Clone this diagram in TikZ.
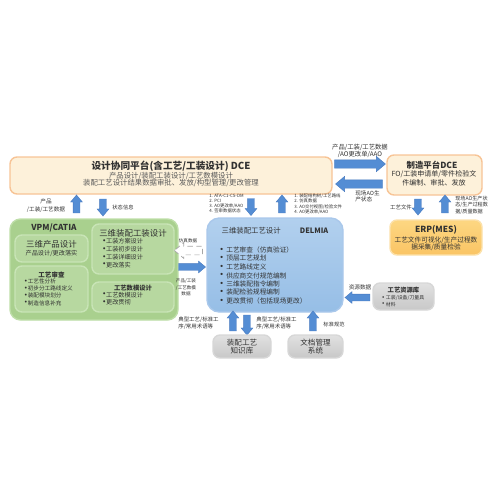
\documentclass[tikz,border=0pt]{standalone}
\usepackage{fontspec}
\usepackage{graphicx}
\setmainfont{Noto Sans CJK SC}
\usetikzlibrary{shapes.arrows}
\definecolor{txtgray}{RGB}{50,50,50}
\definecolor{subgray}{RGB}{90,90,90}
\definecolor{dcefill}{RGB}{253,241,218}
\definecolor{dceedge}{RGB}{247,196,150}
\definecolor{erptop}{RGB}{253,215,130}
\definecolor{erpbot}{RGB}{250,196,100}
\definecolor{erpedge}{RGB}{252,225,170}
\definecolor{vpmfill}{RGB}{169,208,142}
\definecolor{vpmedge}{RGB}{190,222,168}
\definecolor{subfill}{RGB}{183,216,160}
\definecolor{subedge}{RGB}{200,228,182}
\definecolor{deltop}{RGB}{178,208,238}
\definecolor{delbot}{RGB}{150,190,230}
\definecolor{deledge}{RGB}{170,200,235}
\definecolor{graytop}{RGB}{225,225,225}
\definecolor{graybot}{RGB}{200,200,200}
\definecolor{grayedge}{RGB}{215,215,215}
\definecolor{arrowblue}{RGB}{84,141,212}
\definecolor{arrowedge}{RGB}{70,120,190}
\newcommand{\fsz}[2]{\fontsize{#1}{#2}\selectfont}
\newcommand{\itm}[2][1.5em]{\makebox[#1][l]{\raisebox{-0.1em}{\scalebox{1.6}{\textbullet}}}#2}

\begin{document}
\begin{tikzpicture}[x=0.2mm, y=-0.2mm,
  txt/.style={inner sep=0pt, text=txtgray, align=center},
  lst/.style={inner sep=0pt, text=txtgray, align=left},
  panel/.style 2 args={rounded corners=4pt, line width=0.8pt, inner sep=0pt,
    minimum width=#1*0.2mm, minimum height=#2*0.2mm, text=txtgray, align=center},
  blk/.style={single arrow, fill=arrowblue, draw=arrowedge, line width=0.2pt,
    inner sep=0.65mm, single arrow head extend=0.5mm, single arrow tip angle=80,
    minimum height=#1*0.2mm},
  widearrow/.style={inner sep=0.8mm, single arrow head extend=0.7mm},
  blkdash/.style={single arrow, fill=white, draw=gray!70, densely dashed, line width=0.4pt,
    inner sep=0.8mm, single arrow head extend=0.7mm, single arrow tip angle=80,
    minimum height=#1*0.2mm}]
  \useasboundingbox (0,0) rectangle (500,500);

  \node[panel={322}{37}, fill=dcefill, draw=dceedge] (dce) at (171,175.5) {};
  \node[txt, font=\bfseries\fsz{5.5}{6.5}] (dcetitle) at (171,166.5) {设计协同平台(含工艺/工装设计) DCE};
  \node[txt, font=\fsz{4.2}{5}, text=subgray] (dceline1) at (171,176) {产品设计/装配工装设计/工艺数模设计};
  \node[txt, font=\fsz{4.2}{5}, text=subgray] (dceline2) at (171,183.5) {装配工艺设计结果数据审批、发放/构型管理/更改管理};

  \node[panel={95}{40}, fill=dcefill, draw=dceedge] (mfg) at (434.5,175) {};
  \node[txt, font=\bfseries\fsz{4.8}{5.8}] (mfgtitle) at (432,165) {制造平台DCE};
  \node[txt, font=\fsz{4}{4}] (mfgtext) at (434,178.5) {FO/工装申请单/零件检验文\\件编制、审批、发放};

  \node[panel={92}{35}, top color=erptop, bottom color=erpbot, draw=erpedge] (erp) at (436,237.5) {};
  \node[txt, font=\bfseries\fsz{4.8}{5.8}] (erptitle) at (436,230) {ERP(MES)};
  \node[txt, font=\fsz{3.8}{4}] (erptext) at (436,243.5) {工艺文件可视化/生产过程数\\据采集/质量检验};

  \node[blk=51, widearrow] (toMfg) at (357.5,164) {};
  \node[blk=47, widearrow, rotate=180] (toDce) at (361.5,184) {};
  \node[txt, font=\fsz{3.6}{4.3}] (toMfgLbl) at (360,151) {产品/工装/工艺数据\\/AO更改单/AAO};
  \node[lst, font=\fsz{3.2}{3.8}, anchor=north west] (toDceLbl) at (355,190) {现场AO生\\产状态};
  \node[blk=16, rotate=270] (toErp) at (418,205) {};
  \node[blk=18, rotate=90] (fromErp) at (445,206) {};
  \node[txt, font=\fsz{3.1}{3.7}] (toErpLbl) at (401,207) {工艺文件};
  \node[lst, font=\fsz{2.9}{3.7}, anchor=north west] (fromErpLbl) at (455,195.5) {现场AO生产状\\态/生产过程数\\据/质量数据};

  \node[panel={168}{101}, rounded corners=6pt, fill=vpmfill, draw=vpmedge] (vpm) at (94,269.5) {};
  \node[txt, font=\bfseries\fsz{4.7}{5.5}] (vpmtitle) at (54,228) {VPM/CATIA};
  \node[panel={73}{27}, fill=subfill, draw=subedge] (prod) at (51.5,248.5) {};
  \node[txt, font=\fsz{4.8}{5.5}] (prodtitle) at (51.5,244) {三维产品设计};
  \node[txt, font=\fsz{3.5}{4}] (prodtext) at (51.5,253) {产品设计/更改落实};
  \node[panel={73}{46}, fill=subfill, draw=subedge] (review) at (51.5,289) {};
  \node[txt, font=\bfseries\fsz{3.7}{4.3}] (reviewtitle) at (51.5,274.5) {工艺审查};
  \foreach \t [count=\i from 0] in {工艺性分析, 初步分工路线定义, 装配模块划分, 制造信息补充}
    \node[lst, anchor=west, font=\fsz{3.2}{4}] (review\i) at (21,281.5+7.2*\i) {\itm[1.15em]{\t}};
  \node[panel={82}{50}, fill=subfill, draw=subedge] (tool) at (133,249) {};
  \node[txt, font=\fsz{4.8}{5.5}] (tooltitle) at (133,233) {三维装配工装设计};
  \foreach \t [count=\i from 0] in {工装方案设计, 工装初步设计, 工装详细设计, 更改落实}
    \node[lst, anchor=west, font=\fsz{3.5}{4}] (tool\i) at (99,241.5+7.8*\i) {\itm[1.1em]{\t}};
  \node[panel={82}{30}, fill=subfill, draw=subedge] (model) at (133,297) {};
  \node[txt, font=\bfseries\fsz{3.6}{4.2}] (modeltitle) at (133,288) {工艺数模设计};
  \foreach \t [count=\i from 0] in {工艺数模设计, 更改贯彻}
    \node[lst, anchor=west, font=\fsz{3.5}{4}] (model\i) at (99,295+7.5*\i) {\itm[1.1em]{\t}};

  \node[blk=18, rotate=90] (vpmUp) at (76.5,206) {};
  \node[blk=17, rotate=270] (vpmDown) at (103,205.5) {};
  \node[txt, font=\fsz{3.2}{4.7}] (vpmUpLbl) at (46,206) {产品\\/工装/工艺数据};
  \node[txt, font=\fsz{3}{3.6}] (vpmDownLbl) at (123,207) {状态信息};

  \node[panel={136}{94}, rounded corners=7pt, top color=deltop, bottom color=delbot, draw=deledge] (delmia) at (275,265) {};
  \node[txt, font=\fsz{4.2}{5}] (delmiatitle) at (275,231) {三维装配工艺设计\hspace{2.6em}{\bfseries DELMIA}};
  \foreach \t [count=\i from 0] in {工艺审查（仿真验证）, 顶层工艺规划, 工艺路线定义, 供应商交付规范编制,
      三维装配指令编制, 装配检验规程编制, 更改贯彻（包括现场更改）}
    \node[lst, anchor=west, font=\fsz{3.8}{4.5}] (delmia\i) at (216,250+8.5*\i) {\itm{\t}};

  \node[blk=17, rotate=270] (delDown) at (251,205) {};
  \node[blk=18, rotate=90] (delUp) at (282,206) {};
  \node[lst, font=\fsz{2.5}{3}, anchor=north west] (delDownLbl) at (209,193.5) {1. ATA-C1-CS-DM\\2. PCI\\3. AO更改单/AAO\\4. 签审数据状态};
  \node[lst, font=\fsz{2.5}{3}, anchor=north west] (delUpLbl) at (294,193.5) {1. 装配结构树/工艺路线\\2. 仿真数据\\3. AO交付视图/检验文件\\4. AO更改单/AAO};

  \node[blkdash=28, rotate=180] (simBack) at (191,250.5) {};
  \node[blk=27] (modelIn) at (190,267) {};
  \node[txt, font=\fsz{2.6}{3.2}] (simLbl) at (188,240.5) {仿真数据};
  \node[txt, font=\fsz{2.6}{3.6}] (modelLbl) at (186,287.5) {产品/工装\\/工艺数模\\数据};

  \node[blk=20, rotate=90] (kbUp) at (233,323) {};
  \node[blk=20, rotate=270] (kbDown) at (247,323) {};
  \node[blk=20, rotate=90] (docUp) at (313,323) {};
  \node[lst, font=\fsz{3.1}{3.8}, anchor=north west] (kbUpLbl) at (178,316.5) {典型工艺/标准工\\序/常用术语等};
  \node[lst, font=\fsz{3.1}{3.8}, anchor=north west] (kbDownLbl) at (256,316.5) {典型工艺/标准工\\序/常用术语等};
  \node[txt, font=\fsz{3}{3.6}] (docUpLbl) at (334,324) {标准规范};
  \node[panel={58}{23}, top color=graytop, bottom color=graybot, draw=grayedge, font=\fsz{4.3}{4.6}] (kb) at (242,346.5) {装配工艺\\知识库};
  \node[panel={55}{23}, top color=graytop, bottom color=graybot, draw=grayedge, font=\fsz{4.3}{4.6}] (docs) at (315.5,346.5) {文档管理\\系统};

  \node[panel={61}{27}, top color=graytop, bottom color=graybot, draw=grayedge] (res) at (403.5,296.5) {};
  \node[txt, font=\bfseries\fsz{3.6}{4.2}] (restitle) at (403.5,290.5) {工艺资源库};
  \foreach \t [count=\i from 0] in {工装/设备/刀量具, 材料}
    \node[lst, anchor=west, font=\fsz{2.8}{3.4}] (res\i) at (379,298.3+6*\i) {\itm[1.35em]{\t}};
  \node[blk=25, rotate=180] (resIn) at (359.5,297.5) {};
  \node[txt, font=\fsz{3.2}{3.8}] (resInLbl) at (360,287.5) {资源数据};
\end{tikzpicture}
\end{document}
